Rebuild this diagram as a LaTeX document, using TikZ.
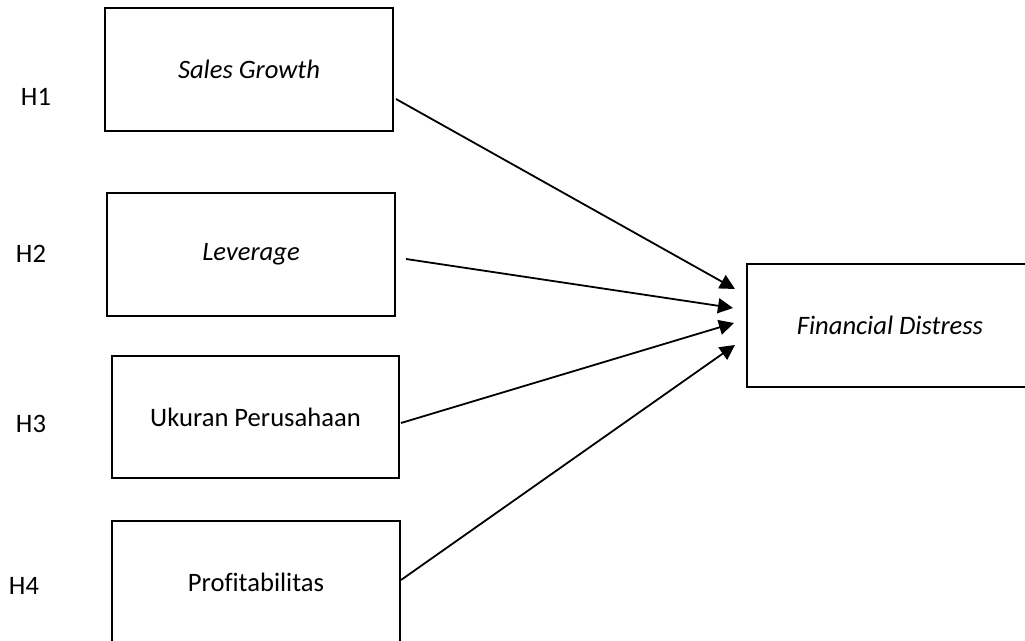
\documentclass[tikz,border=0pt]{standalone}
\usepackage{fontspec}
\setmainfont{Carlito}[Ligatures=NoCommon]
\usetikzlibrary{arrows.meta}
\begin{document}
\begin{tikzpicture}[x=0.5pt,y=-0.5pt,
  box/.style={draw=black,line width=1pt,rectangle,inner sep=0pt,font=\fontsize{13.3}{16}\selectfont},
  lbl/.style={inner sep=0pt,font=\fontsize{13.3}{16}\selectfont},
  arr/.style={line width=0.9pt,-{Triangle[length=7.5pt,width=7.5pt]}}]
\useasboundingbox (0,0) rectangle (1025,641);
\clip (0,0) rectangle (1025,641);
\fill[white] (0,0) rectangle (1025,641);
% boxes
\node[box,minimum width=144pt,minimum height=61.5pt] (sg) at (249,69.5) {\itshape Sales Growth};
\node[box,minimum width=144pt,minimum height=61.5pt] (lev) at (251,254.5) {\itshape Leverage};
\node[box,minimum width=143.5pt,minimum height=61pt] (uk) at (255.5,417) {Ukuran Perusahaan};
\node[box,minimum width=144pt,minimum height=80pt] (pr) at (256,601) {};
\node[lbl] (prt) at (256,582) {Profitabilitas};
\node[box,minimum width=143pt,minimum height=61.5pt] (fd) at (890,325.5) {\itshape Financial Distress};
% hypothesis labels
\node[lbl] (h1) at (36,97) {H1};
\node[lbl] (h2) at (31,254) {H2};
\node[lbl] (h3) at (31,424) {H3};
\node[lbl] (h4) at (24,586) {H4};
% connector ends
\coordinate (s1) at (396,99);
\coordinate (s2) at (406,259);
\coordinate (s3) at (401,423);
\coordinate (s4) at (401,580);
\coordinate (t1) at (735,289);
\coordinate (t2) at (733,308);
\coordinate (t3) at (734,323);
\coordinate (t4) at (735,345);
\draw[arr] (s1) -- (t1);
\draw[arr] (s2) -- (t2);
\draw[arr] (s3) -- (t3);
\draw[arr] (s4) -- (t4);
\end{tikzpicture}
\end{document}
